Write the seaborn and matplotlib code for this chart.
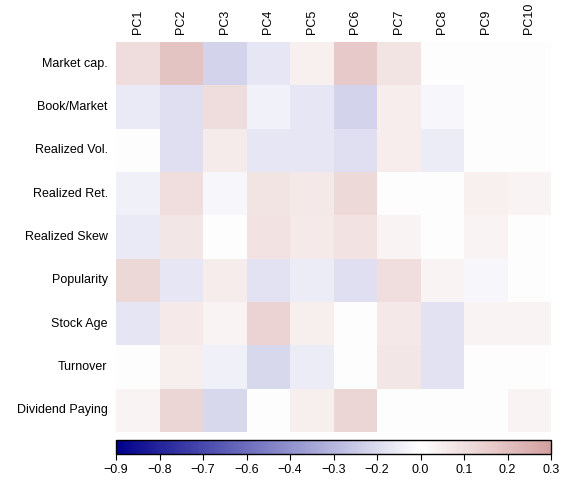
import numpy as np
import pandas as pd
import matplotlib
matplotlib.use("Agg")
import matplotlib.pyplot as plt
import seaborn as sns
from matplotlib.colors import LinearSegmentedColormap

plt.rcParams['font.family'] = ['Liberation Sans', 'DejaVu Sans']

# rows / columns
characteristics = ['Market cap.', 'Book/Market', 'Realized Vol.', 'Realized Ret.',
                   'Realized Skew', 'Popularity', 'Stock Age', 'Turnover', 'Dividend Paying']
components = ['PC1', 'PC2', 'PC3', 'PC4', 'PC5', 'PC6', 'PC7', 'PC8', 'PC9', 'PC10']

# values (colour scale: 0 = white)
market_cap    = [0.11, 0.19, -0.118, -0.069, 0.047, 0.17, 0.085, -0.005, -0.005, -0.005]
book_market   = [-0.058, -0.09, 0.11, -0.036, -0.069, -0.118, 0.054, -0.025, -0.005, -0.005]
realized_vol  = [-0.005, -0.09, 0.063, -0.069, -0.069, -0.09, 0.054, -0.055, -0.005, -0.005]
realized_ret  = [-0.041, 0.104, -0.025, 0.085, 0.073, 0.117, -0.005, -0.005, 0.047, 0.035]
realized_skew = [-0.058, 0.079, -0.005, 0.092, 0.066, 0.092, 0.035, -0.005, 0.035, -0.005]
popularity    = [0.123, -0.069, 0.06, -0.08, -0.052, -0.09, 0.104, 0.038, -0.025, -0.005]
stock_age     = [-0.074, 0.066, 0.035, 0.136, 0.05, -0.005, 0.07, -0.08, 0.035, 0.035]
turnover      = [-0.005, 0.05, -0.041, -0.11, -0.055, -0.005, 0.079, -0.08, -0.005, -0.005]
dividend      = [0.038, 0.13, -0.107, -0.005, 0.05, 0.13, -0.005, -0.005, -0.005, 0.038]

cbar_labels = ['\u22120.9', '\u22120.8', '\u22120.7', '\u22120.6', '\u22120.4', '\u22120.3',
               '\u22120.2', '0.0', '0.1', '0.2', '0.3']

df = pd.DataFrame([market_cap, book_market, realized_vol, realized_ret, realized_skew,
                   popularity, stock_age, turnover, dividend],
                  index=characteristics, columns=components)

# navy -> white -> rosy
cmap = LinearSegmentedColormap.from_list(
    'navy_rose', [(0.0, '#00008c'), (0.7, '#ffffff'), (1.0, '#d4a0a0')])

fig = plt.figure(figsize=(5.73, 4.82), dpi=100)
ax = fig.add_axes([116 / 573, 50 / 482, 435 / 573, 390 / 482])
cax = fig.add_axes([116 / 573, 28 / 482, 435 / 573, 14 / 482])

sns.heatmap(df, ax=ax, cmap=cmap, vmin=-0.7, vmax=0.3, cbar_ax=cax,
            cbar_kws={'orientation': 'horizontal'})

ax.xaxis.tick_top()
ax.set_xticklabels(components, rotation=90, fontsize=9)
ax.set_yticklabels(characteristics, rotation=0, fontsize=9)
ax.tick_params(length=0, pad=6)
ax.set_xlabel('')
ax.set_ylabel('')

cbar = ax.collections[0].colorbar
cbar.set_ticks(np.linspace(-0.7, 0.3, 11))
cbar.set_ticklabels(cbar_labels)
cbar.ax.tick_params(labelsize=9, length=4, width=0.8)
cbar.outline.set_visible(True)
cbar.outline.set_edgecolor('black')
cbar.outline.set_linewidth(1.0)

fig.savefig('out.png', dpi=100)
